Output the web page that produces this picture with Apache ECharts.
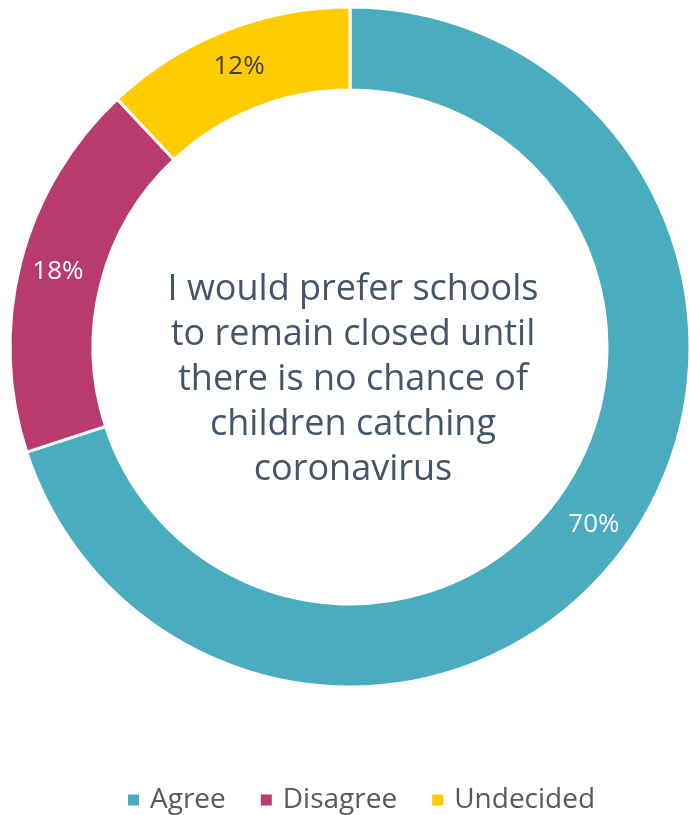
<!DOCTYPE html>
<html>
<head>
<meta charset="utf-8">
<script src="https://cdn.jsdelivr.net/npm/echarts@6/dist/echarts.min.js"></script>
<style>
  html, body { margin: 0; padding: 0; background: #fff; }
  #chart { width: 690px; height: 815px; }
</style>
</head>
<body>
<div id="chart"></div>
<script>
const categories = ['Agree', 'Disagree', 'Undecided'];
const values = [70, 18, 12];
const colors = ['#4AACBF', '#B93B6E', '#FFCC00'];
const labelColors = ['#ffffff', '#ffffff', '#404040'];
const centerText = 'I would prefer schools\nto remain closed until\nthere is no chance of\nchildren catching\ncoronavirus';

const chart = echarts.init(document.getElementById('chart'));

chart.setOption({
  animation: false,
  color: colors,
  title: {
    text: centerText,
    left: 348,
    top: 262,
    textAlign: 'center',
    textStyle: {
      fontFamily: '"Open Sans", sans-serif',
      fontWeight: 'normal',
      fontSize: 36,
      lineHeight: 45,
      color: '#44546A',
    },
  },
  legend: {
    bottom: -4,
    left: 121,
    itemWidth: 13,
    itemHeight: 13,
    itemGap: 33,
    icon: 'rect',
    textStyle: {
      fontFamily: '"Open Sans", sans-serif',
      fontSize: 28,
      color: '#595959',
      padding: [0, 0, 0, 5],
    },
    data: categories,
  },
  series: [
    {
      type: 'pie',
      center: [350, 347],
      radius: [257, 340],
      startAngle: 90,
      clockwise: true,
      itemStyle: {
        borderColor: '#ffffff',
        borderWidth: 3,
      },
      label: {
        position: 'inside',
        formatter: '{c}%',
        fontFamily: '"Open Sans", sans-serif',
        fontSize: 26,
      },
      labelLine: { show: false },
      data: categories.map((name, i) => ({
        name,
        value: values[i],
        label: { color: labelColors[i] },
      })),
    },
  ],
});
</script>
</body>
</html>
